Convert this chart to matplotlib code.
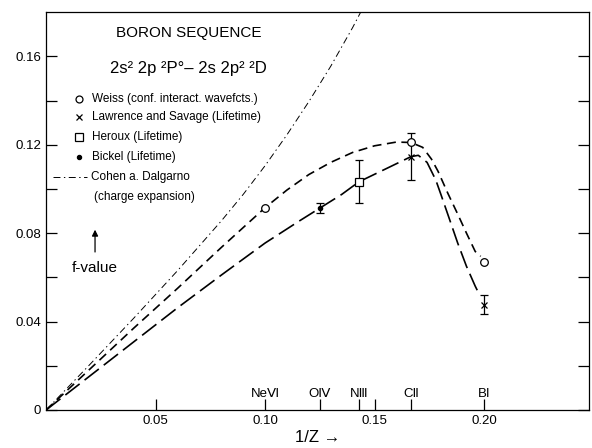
import numpy as np
import matplotlib
matplotlib.use("Agg")
import matplotlib.pyplot as plt
from matplotlib.ticker import FixedLocator, FuncFormatter

plt.rcParams['font.family'] = ['Liberation Sans', 'DejaVu Sans']
plt.rcParams['lines.scale_dashes'] = False

# puntos medidos (1/Z, f)
weiss_x = [0.10, 1/6, 0.20]
weiss_y = [0.0915, 0.121, 0.067]

ls_x = [1/6, 0.20]
ls_y = [0.1146, 0.0475]
ls_err = [0.0105, 0.0043]

heroux_x = [1/7]
heroux_y = [0.1032]
heroux_err = [0.0098]

bickel_x = [0.125]
bickel_y = [0.0913]
bickel_err = [0.0023]

# curvas
curva_weiss_x = [0, 0.02, 0.04, 0.06, 0.08, 0.10, 0.11, 0.12, 0.13, 0.14, 0.15, 0.16, 1/6,
                 0.172, 0.176, 0.179, 0.1835, 0.188, 0.192, 0.196, 0.1985]
curva_weiss_y = [0, 0.0185, 0.037, 0.055, 0.0735, 0.0915, 0.0995, 0.1065, 0.112, 0.1165, 0.1195, 0.1212, 0.121,
                 0.1188, 0.1135, 0.108, 0.098, 0.0886, 0.080, 0.0717, 0.0695]

curva_exp_x = [0, 0.02, 0.04, 0.06, 0.08, 0.10, 0.1155, 0.125, 0.135, 1/7, 0.155, 1/6,
               0.170, 0.174, 0.178, 0.1805, 0.184, 0.188, 0.192, 0.196, 0.198]
curva_exp_y = [0, 0.0154, 0.0308, 0.0462, 0.061, 0.0755, 0.0854, 0.0913, 0.0975, 0.1032, 0.109, 0.1146,
               0.1152, 0.112, 0.104, 0.097, 0.087, 0.0755, 0.065, 0.056, 0.052]

cohen_x = [0, 0.02, 0.04, 0.06, 0.08, 0.09, 0.10, 0.11, 0.12, 0.13, 0.14, 0.15]
cohen_y = [0, 0.0206, 0.0415, 0.063, 0.0855, 0.0975, 0.1105, 0.1245, 0.1395, 0.1555, 0.173, 0.192]

iones = ["NeⅥ", "OⅣ", "NⅢ", "CⅡ", "BI"]
iones_x = [0.10, 0.125, 1/7, 1/6, 0.20]

fig = plt.figure(figsize=(5.92, 4.48), dpi=100)
ax = fig.add_axes([0.078, 0.085, 0.917, 0.888])

ax.plot(cohen_x, cohen_y, color="black", lw=0.7, dashes=(5, 2.5, 1, 2.5))
ax.plot(curva_weiss_x, curva_weiss_y, color="black", lw=1.2, dashes=(6.5, 4))
ax.plot(curva_exp_x, curva_exp_y, color="black", lw=1.2, dashes=(13, 4.5))

cap = dict(elinewidth=0.9, capsize=2.8, capthick=0.9)
ax.errorbar(ls_x, ls_y, yerr=ls_err, fmt="x", color="black", ms=5, mew=0.9, **cap)
ax.errorbar(heroux_x, heroux_y, yerr=heroux_err, fmt="s", color="black", mfc="white",
            ms=6, mew=0.9, **cap)
ax.errorbar(bickel_x, bickel_y, yerr=bickel_err, fmt="o", color="black", ms=3, **cap)
ax.plot(weiss_x, weiss_y, "o", color="black", mfc="white", ms=5.5, mew=0.9, zorder=5)

ax.set_xlim(0, 0.248)
ax.set_ylim(0, 0.18)

ax.xaxis.set_major_locator(FixedLocator([0.05, 0.10, 0.15, 0.20]))
ax.xaxis.set_minor_locator(FixedLocator([0.125, 1/7, 1/6]))
ax.xaxis.set_major_formatter(FuncFormatter(lambda v, p: f"{v:.2f}"))
ax.yaxis.set_major_locator(FixedLocator([0, 0.04, 0.08, 0.12, 0.16]))
ax.yaxis.set_minor_locator(FixedLocator([0.02, 0.06, 0.10, 0.14]))
ax.yaxis.set_major_formatter(FuncFormatter(lambda v, p: "0" if v == 0 else f"{v:.2f}"))
ax.tick_params(which="both", direction="in", length=8, width=0.9, labelsize=9.5, right=True, top=False)
for s in ax.spines.values():
    s.set_linewidth(0.9)

ax.set_xlabel("1/Z →", fontsize=12, labelpad=2)

for nombre, xv in zip(iones, iones_x):
    ax.text(xv, 0.04, nombre, transform=ax.get_xaxis_transform(), ha="center", va="center", fontsize=9.5)

ax.text(0.263, 0.947, "BORON SEQUENCE", transform=ax.transAxes, ha="center", va="center", fontsize=11)
ax.text(0.262, 0.859, "2s² 2p ²P°– 2s 2p² ²D", transform=ax.transAxes, ha="center", va="center", fontsize=12)

# leyenda dibujada a mano
filas = [0.781, 0.736, 0.686, 0.636]
textos = ["Weiss (conf. interact. wavefcts.)", "Lawrence and Savage (Lifetime)",
          "Heroux (Lifetime)", "Bickel (Lifetime)"]
marcas = [dict(marker="o", mfc="white", ms=5), dict(marker="x", ms=5),
          dict(marker="s", mfc="white", ms=5.5), dict(marker="o", ms=3)]
for yv, t, m in zip(filas, textos, marcas):
    ax.plot([0.061], [yv], transform=ax.transAxes, color="black", mew=0.9, ls="none", **m)
    ax.text(0.085, yv, t, transform=ax.transAxes, va="center", fontsize=8.5)
ax.plot([0.013, 0.075], [0.585, 0.585], transform=ax.transAxes, color="black", lw=0.7,
        dashes=(5, 2.5, 1, 2.5))
ax.text(0.083, 0.585, "Cohen a. Dalgarno", transform=ax.transAxes, va="center", fontsize=8.5)
ax.text(0.088, 0.535, "(charge expansion)", transform=ax.transAxes, va="center", fontsize=8.5)

ax.annotate("", xy=(0.09, 0.46), xytext=(0.09, 0.39), xycoords="axes fraction",
            arrowprops=dict(arrowstyle="-|>", color="black", lw=0.9, mutation_scale=9))
ax.text(0.09, 0.357, "f-value", transform=ax.transAxes, ha="center", va="center", fontsize=11)

fig.savefig("out.png", dpi=100)
